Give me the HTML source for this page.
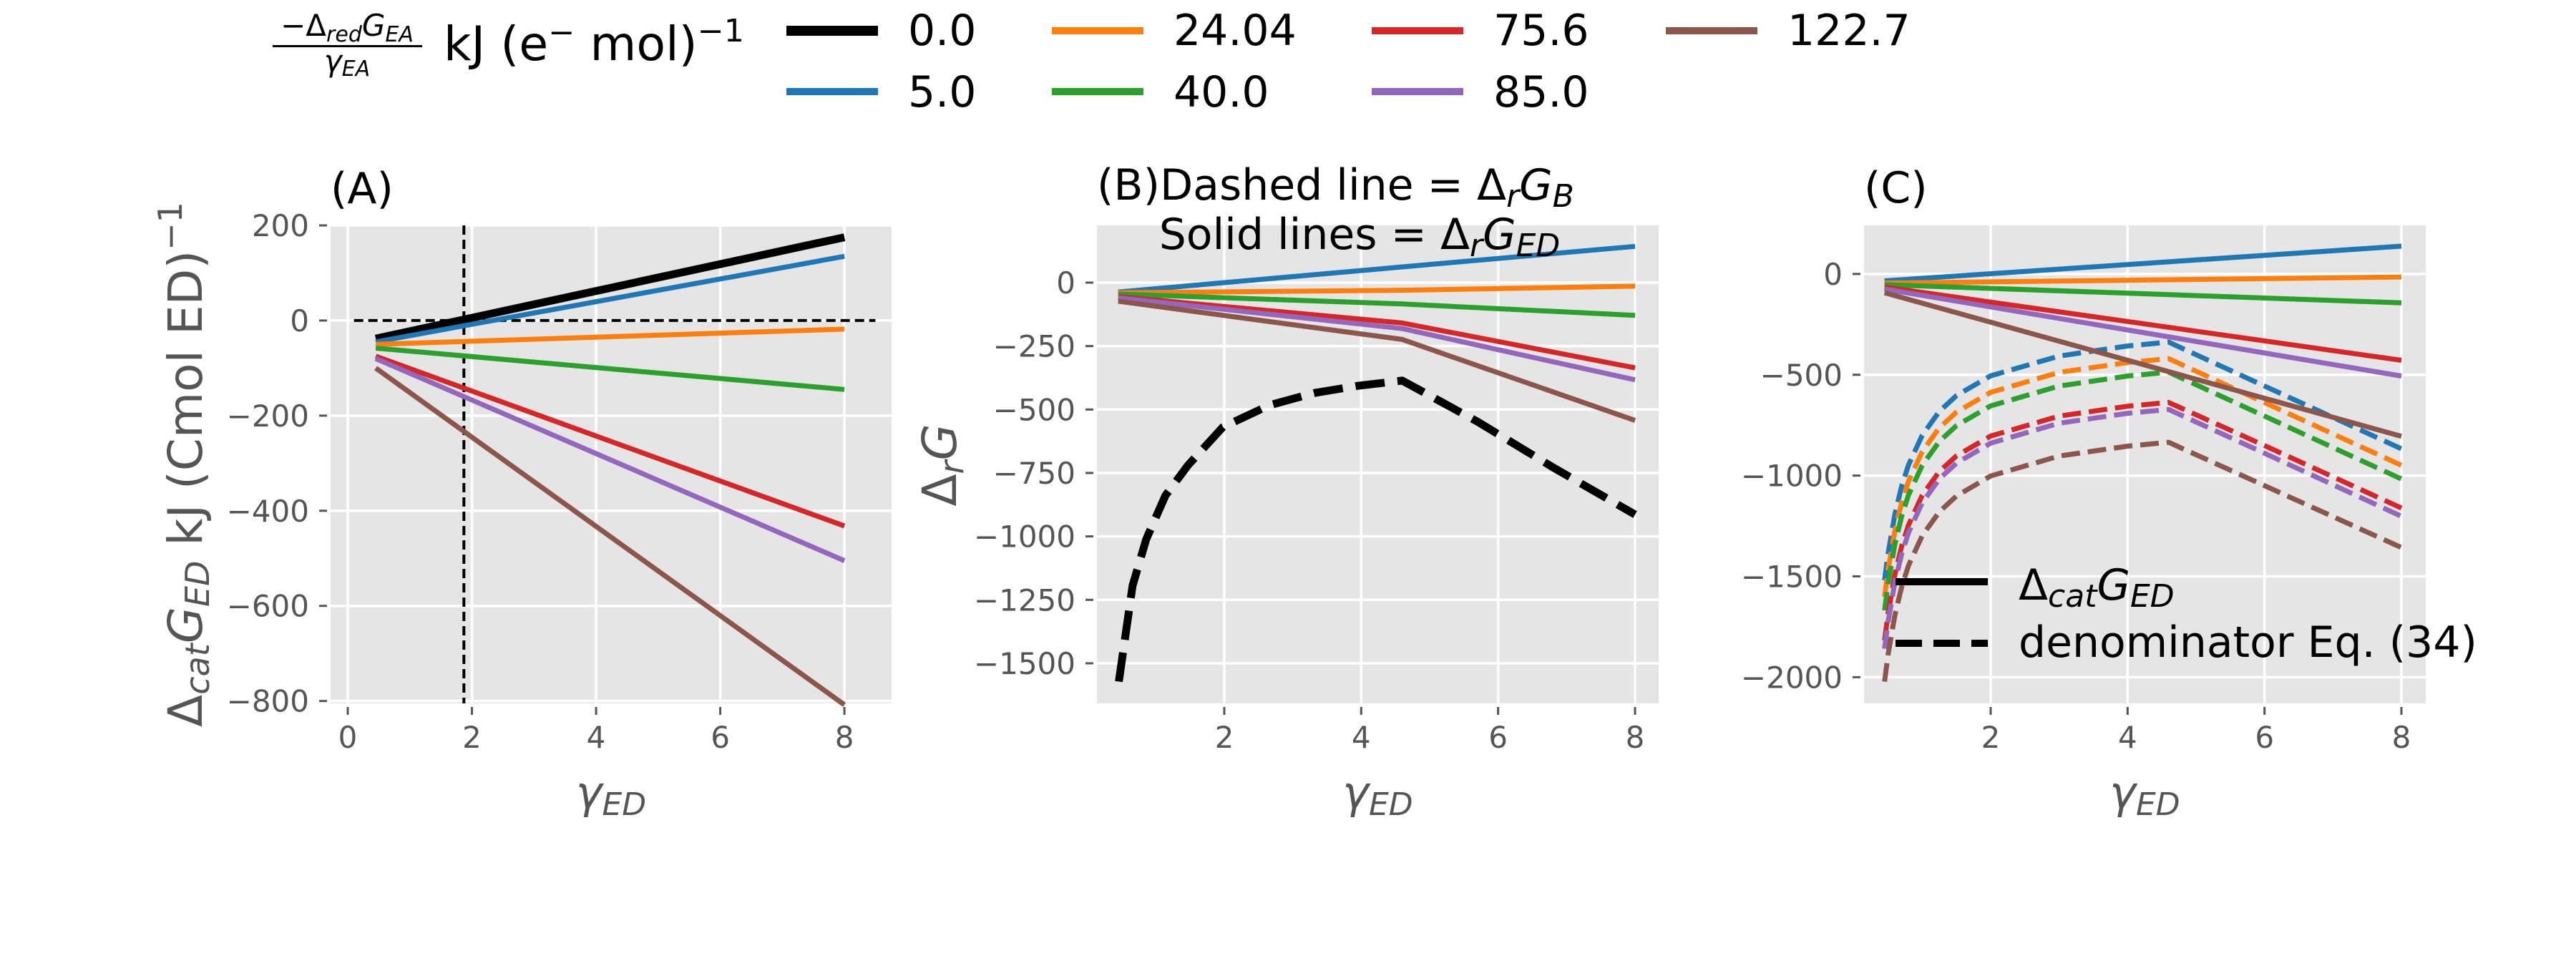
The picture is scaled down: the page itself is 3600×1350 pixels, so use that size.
<!DOCTYPE html>
<html><head><meta charset="utf-8"><style>
html,body{margin:0;padding:0;background:#fff;}
svg{display:block;font-family:"DejaVu Sans","Liberation Sans",sans-serif;}
</style></head><body>
<svg id="fig" xmlns="http://www.w3.org/2000/svg" width="3600" height="1350" viewBox="0 0 3600 1350">
<rect x="0" y="0" width="3600" height="1350" fill="#fff"/>
<g id="legend-top">
  <text x="485" y="50" font-size="42" text-anchor="middle" fill="#000">−Δ<tspan font-style="italic" font-size="30" dy="8">red</tspan><tspan font-style="italic" dy="-8">G</tspan><tspan font-style="italic" font-size="30" dy="8">EA</tspan></text>
  <rect x="381" y="63" width="209" height="3" fill="#000"/>
  <text x="485" y="100" font-size="42" text-anchor="middle" fill="#000" font-style="italic">γ<tspan font-size="30" dy="6">EA</tspan></text>
  <text x="620" y="84" font-size="66" fill="#000" textLength="420" lengthAdjust="spacingAndGlyphs">kJ (e<tspan font-size="44" dy="-24">−</tspan><tspan dy="24"> mol)</tspan><tspan font-size="44" dy="-26">−1</tspan></text>
</g>
<g id="plots"></g>
</svg>
<script>
// ---- data ----
const legendLabels = ["0.0","5.0","24.04","40.0","75.6","85.0","122.7"];
const colors = ["#000000","#1f77b4","#ff7f0e","#2ca02c","#d62728","#9467bd","#8c564b"];
// Panel A: straight lines Δcat G_ED vs γED
const xA = [0.45, 8];
const aBlack = [-38, 175];
const aBlue = [-45, 135];
const aOrange = [-50, -18];
const aGreen = [-58, -145];
const aRed = [-75, -432];
const aPurple = [-80, -505];
const aBrown = [-100, -808];
const aVline = 1.87;
// Panel B
const xB = [0.45, 4.6, 8];
const bBlue = [-37, 62, 143];
const bOrange = [-40, -30, -14];
const bGreen = [-45, -84, -129];
const bRed = [-55, -159, -336];
const bPurple = [-60, -181, -383];
const bBrown = [-73, -224, -543];
const xBd = [0.46,0.66,0.86,1.14,1.47,1.98,2.66,3.31,3.94,4.6,5.7,6.82,8];
const bDashed = [-1572,-1194,-1011,-839,-720,-569,-483,-435,-407,-386,-548,-731,-914];
// Panel C
const xC = [0.45, 8];
const cBlue = [-34, 138];
const cOrange = [-45, -15];
const cGreen = [-53, -143];
const cRed = [-65, -428];
const cPurple = [-75, -506];
const cBrown = [-93, -805];
const xCd = [0.45,0.5,0.6,0.7,0.8,1,1.25,1.5,2,3,4,4.6,6,8];
const dBlue = [-1520,-1389,-1193,-1052,-947,-800,-682,-603,-505,-407,-357,-338,-556,-867];
const dOrange = [-1601,-1470,-1274,-1133,-1028,-881,-763,-685,-587,-488,-439,-420,-638,-949];
const dGreen = [-1669,-1538,-1341,-1201,-1096,-949,-831,-752,-654,-556,-506,-487,-705,-1017];
const dRed = [-1818,-1687,-1491,-1350,-1245,-1098,-980,-902,-804,-705,-656,-637,-851,-1161];
const dPurple = [-1859,-1727,-1530,-1389,-1283,-1135,-1017,-938,-839,-740,-691,-672,-889,-1202];
const dBrown = [-2022,-1890,-1693,-1552,-1446,-1298,-1180,-1101,-1002,-903,-854,-835,-1050,-1357];
const ticksXA = [0,2,4,6,8];
const ticksXBC = [2,4,6,8];
const ticksYA = [200,0,-200,-400,-600,-800];
const ticksYB = [0,-250,-500,-750,-1000,-1250,-1500];
const ticksYC = [0,-500,-1000,-1500,-2000];

const NS = "http://www.w3.org/2000/svg";
const root = document.getElementById('plots');
function mk(tag, attrs, parent){
  const e = document.createElementNS(NS, tag);
  for (const k in attrs) e.setAttribute(k, attrs[k]);
  (parent||root).appendChild(e);
  return e;
}
function fmt(v){ return v<0 ? "−"+Math.abs(v) : ""+v; }

function axes(name, px0, px1, py0, py1, xmin, xmax, ymin, ymax, xt, yt){
  const g = mk('g', {});
  
  
  const sx = v => px0 + (v - xmin) / (xmax - xmin) * (px1 - px0);
  const sy = v => py1 - (v - ymin) / (ymax - ymin) * (py1 - py0);
  const bg = mk('rect', {x:px0, y:py0, width:px1-px0, height:py1-py0, fill:'#e5e5e5'}, g);
  
  
  xt.forEach(t => {
    const x = sx(t);
    const gl = mk('line', {x1:x, x2:x, y1:py0, y2:py1, stroke:'#fff', 'stroke-width':3.5}, g);
    
    
    mk('line', {x1:x, x2:x, y1:py1+5, y2:py1+16, stroke:'#555', 'stroke-width':3}, g);
    const tl = mk('text', {x:x, y:py1+62, 'font-size':42, fill:'#555', 'text-anchor':'middle'}, g);
    tl.textContent = fmt(t);
    
    
  });
  yt.forEach(t => {
    const y = sy(t);
    const gl = mk('line', {x1:px0, x2:px1, y1:y, y2:y, stroke:'#fff', 'stroke-width':3.5}, g);
    
    
    mk('line', {x1:px0-16, x2:px0-5, y1:y, y2:y, stroke:'#555', 'stroke-width':3}, g);
    const tl = mk('text', {x:px0-30, y:y+15, 'font-size':42, fill:'#555', 'text-anchor':'end'}, g);
    tl.textContent = fmt(t);
    
    
  });
  const xl = mk('text', {x:(px0+px1)/2, y:py1+146, 'font-size':62, fill:'#555', 'text-anchor':'middle', 'font-style':'italic'}, g);
  xl.innerHTML = 'γ<tspan font-size="44" dy="10">ED</tspan>';
  
  
  return {g, sx, sy};
}
function line(ax, xs, ys, color, w, dash, name){
  const d = xs.map((x,i) => (i?'L':'M') + ax.sx(x).toFixed(1) + ',' + ax.sy(ys[i]).toFixed(1)).join(' ');
  const p = mk('path', {d:d, fill:'none', stroke:color, 'stroke-width':w, 'stroke-linejoin':'round'}, ax.g);
  if (dash) p.setAttribute('stroke-dasharray', dash);
  
  
  return p;
}

// Panel A
const A = axes('panel-a', 462, 1246, 315, 983, -0.277, 8.76, -805, 200, ticksXA, ticksYA);
line(A, [0.1, 8.5], [0, 0], '#000', 4, '13,7', 'zero-reference-line');
line(A, [aVline, aVline], [200, -805], '#000', 4, '13,7', 'crossover-vertical-line');
const seriesA = [aBlack, aBlue, aOrange, aGreen, aRed, aPurple, aBrown];
seriesA.forEach((s,i) => line(A, xA, s, colors[i], i===0?11:7, null, 'series-a-' + legendLabels[i]));
const tA = mk('text', {x:462, y:284, 'font-size':60, fill:'#000'});
tA.textContent = '(A)';


const ylA = mk('text', {transform:'translate(282,649) rotate(-90)', 'font-size':66, fill:'#555', 'text-anchor':'middle'});
ylA.innerHTML = 'Δ<tspan font-style="italic" font-size="46" dy="10">cat</tspan><tspan font-style="italic" dy="-10">G</tspan><tspan font-style="italic" font-size="46" dy="10">ED</tspan><tspan dy="-10">  kJ (Cmol ED)</tspan><tspan font-size="46" dy="-28">−1</tspan>';



// Panel B
const B = axes('panel-b', 1533, 2318, 315, 983, 0.14, 8.345, -1658, 225.5, ticksXBC, ticksYB);
const seriesB = [null, bBlue, bOrange, bGreen, bRed, bPurple, bBrown];
seriesB.forEach((s,i) => { if (s) line(B, xB, s, colors[i], 7, null, 'series-b-' + legendLabels[i]); });
line(B, xBd, bDashed, '#000', 11, '41,18', 'delta-r-g-b-dashed-line');
const tB = mk('text', {x:1533, y:279, 'font-size':60, fill:'#000'});
tB.innerHTML = '(B)Dashed line = Δ<tspan font-style="italic" font-size="44" dy="10">r</tspan><tspan font-style="italic" dy="-10">G</tspan><tspan font-style="italic" font-size="44" dy="10">B</tspan>';


const tB2 = mk('text', {x:1900, y:348, 'font-size':60, fill:'#000', 'text-anchor':'middle'});
tB2.innerHTML = 'Solid lines = Δ<tspan font-style="italic" font-size="44" dy="10">r</tspan><tspan font-style="italic" dy="-10">G</tspan><tspan font-style="italic" font-size="44" dy="10">ED</tspan>';


const ylB = mk('text', {transform:'translate(1336,650) rotate(-90)', 'font-size':66, fill:'#555', 'text-anchor':'middle'});
ylB.innerHTML = 'Δ<tspan font-style="italic" font-size="46" dy="10">r</tspan><tspan font-style="italic" dy="-10">G</tspan>';



// Panel C
const C = axes('panel-c', 2605, 3390, 315, 983, 0.15, 8.355, -2130, 241, ticksXBC, ticksYC);
const seriesD = [null, dBlue, dOrange, dGreen, dRed, dPurple, dBrown];
seriesD.forEach((s,i) => { if (s) line(C, xCd, s, colors[i], 7, '26,11', 'series-c-dashed-' + legendLabels[i]); });
const seriesC = [null, cBlue, cOrange, cGreen, cRed, cPurple, cBrown];
seriesC.forEach((s,i) => { if (s) line(C, xC, s, colors[i], 7, null, 'series-c-' + legendLabels[i]); });
const tC = mk('text', {x:2605, y:283, 'font-size':60, fill:'#000'});
tC.textContent = '(C)';


const lg = mk('g', {});


mk('line', {x1:2649, x2:2778, y1:813, y2:813, stroke:'#000', 'stroke-width':10}, lg);
mk('line', {x1:2649, x2:2778, y1:899, y2:899, stroke:'#000', 'stroke-width':10, 'stroke-dasharray':'37,16'}, lg);
const l1 = mk('text', {x:2821, y:838, 'font-size':60, fill:'#000'}, lg);
l1.innerHTML = 'Δ<tspan font-style="italic" font-size="44" dy="10">cat</tspan><tspan font-style="italic" dy="-10">G</tspan><tspan font-style="italic" font-size="44" dy="10">ED</tspan>';


const l2 = mk('text', {x:2821, y:918, 'font-size':60, fill:'#000'}, lg);
l2.textContent = 'denominator Eq. (34)';



// Top legend entries
const lt = document.getElementById('legend-top');
const colX = [1099, 1470, 1917, 2328];
legendLabels.forEach((lab, i) => {
  const c = Math.floor(i/2), r = i%2;
  const y = r ? 128 : 43;
  const hl = mk('line', {x1:colX[c], x2:colX[c]+128, y1:y, y2:y, stroke:colors[i], 'stroke-width':i===0?14:10}, lt);
  
  
  const tx = mk('text', {x:colX[c]+170, y:r?149:63, 'font-size':60, fill:'#000'}, lt);
  tx.textContent = lab;
  
  
});
</script>
</body></html>
